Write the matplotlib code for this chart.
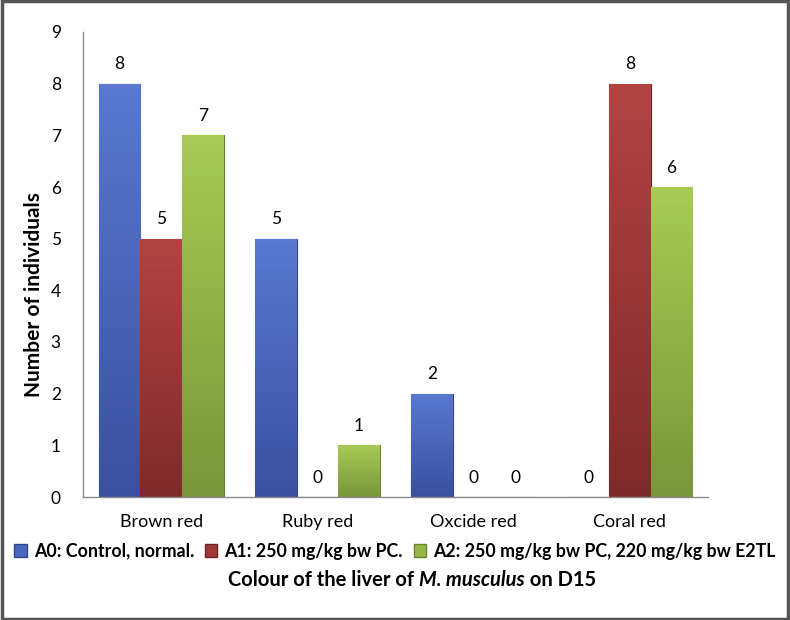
import numpy as np
import matplotlib
matplotlib.use("Agg")
import matplotlib.pyplot as plt
from matplotlib.patches import Rectangle, Patch
from matplotlib.colors import LinearSegmentedColormap

plt.rcParams['font.family'] = ['Lato', 'DejaVu Sans']

categories = ['Brown red', 'Ruby red', 'Oxcide red', 'Coral red']
series = ['A0: Control, normal.', 'A1: 250 mg/kg bw PC.', 'A2: 250 mg/kg bw PC, 220 mg/kg bw E2TL']
a0 = [8, 5, 2, 0]
a1 = [5, 0, 0, 8]
a2 = [7, 1, 0, 6]
colors = ['#4A66BF', '#A03838', '#97B848']
tops = ['#5a78d0', '#b24343', '#a8ca55']
bottoms = ['#3a50a0', '#7f2a2a', '#7a963a']
edges = ['#34478a', '#6e2424', '#6a8530']

fig = plt.figure(figsize=(7.9, 6.2), dpi=100)
ax = fig.add_axes([83/790, 1-497/620, (708-83)/790, (497-32)/620])

x = np.arange(len(categories))
w = 1/3.75
grad = np.linspace(1, 0, 64).reshape(-1, 1)
for i, (vals, c, ec) in enumerate(zip([a0, a1, a2], colors, edges)):
    pos = x + (i-1)*w
    bars = ax.bar(pos, vals, width=w, color=c, edgecolor=ec, linewidth=0.8, zorder=2)
    cmap = LinearSegmentedColormap.from_list('g%d' % i, [bottoms[i], tops[i]])
    for b in bars:
        if b.get_height() == 0:
            continue
        bx, by = b.get_x(), b.get_y()
        im = ax.imshow(grad, cmap=cmap, aspect='auto', origin='upper',
                       extent=[bx, bx + b.get_width(), by, by + b.get_height()], zorder=2.5)
        im.set_clip_path(b)
    for p, v in zip(pos, vals):
        ax.text(p, v + 0.22, str(v), ha='center', va='bottom', fontsize=12.5, color='black')

ax.set_xlim(-0.5, 3.5)
ax.set_ylim(0, 9)
ax.set_yticks(range(10))
ax.set_xticks(x)
ax.set_xticklabels(categories, fontsize=13)
ax.tick_params(axis='both', length=0)
ax.tick_params(axis='y', pad=16, labelsize=12.5)
ax.tick_params(axis='x', pad=12)
for s in ['top', 'right']:
    ax.spines[s].set_visible(False)
for s in ['left', 'bottom']:
    ax.spines[s].set_color('#8a8a8a')
    ax.spines[s].set_linewidth(1)
    ax.spines[s].set_zorder(3)

ax.set_ylabel('Number of individuals', fontsize=15, fontweight='bold')
ax.yaxis.set_label_coords((44-83)/625, (497-295)/465)

handles = [Patch(facecolor=c, edgecolor=ec) for c, ec in zip(colors, edges)]
fig.legend(handles, series, loc='center', bbox_to_anchor=(0.5, 1-551/620), ncol=3,
           frameon=False, handlelength=0.7, handleheight=0.7, handletextpad=0.4,
           columnspacing=0.6, prop={'weight': 'bold', 'size': 12.8})

# x-axis title with italic species name
parts = [('Colour of the liver of ', 'normal'), ('M. musculus', 'italic'), (' on D15', 'normal')]
fig.canvas.draw()
r = fig.canvas.get_renderer()
texts = []
for s, st in parts:
    t = fig.text(0, 1-580/620, s, fontsize=14.5, fontweight='bold', style=st, va='center')
    texts.append(t)
widths = [t.get_window_extent(r).width for t in texts]
xs = 412 - sum(widths)/2
for t, wd in zip(texts, widths):
    t.set_x(xs/790)
    xs += wd

fig.patches.append(Rectangle((0.002, 0.002), 0.996, 0.996, transform=fig.transFigure,
                             fill=False, edgecolor='#555555', linewidth=2.5))

fig.savefig('out.png', dpi=100)
